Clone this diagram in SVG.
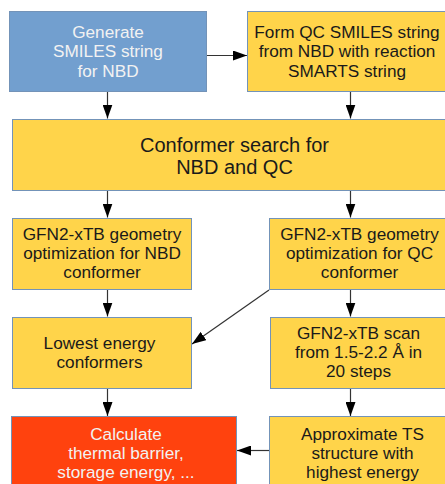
<svg xmlns="http://www.w3.org/2000/svg" width="445" height="484" viewBox="0 0 445 484">
<defs>
<style>
.box{stroke:#7393b8;stroke-width:1}
.y{fill:#ffd44a}
.b{fill:#729fcf}
.r{fill:#ff420e}
text{font-family:"Liberation Sans",Arial,sans-serif;font-size:17.2px;text-anchor:middle;fill:#1a1a1a}
.w{fill:#f2f2f2}
.big{font-size:20px}
.c{stroke:#333;stroke-width:1.2;fill:none;marker-end:url(#ah)}
</style>
<marker id="ah" viewBox="0 0 14 10" refX="14" refY="5" markerWidth="14" markerHeight="10" markerUnits="userSpaceOnUse" orient="auto">
<path d="M0,0 L14,5 L0,10 z" fill="#000"/>
</marker>
</defs>
<rect width="445" height="484" fill="#fff"/>
<g id="connectors">
<line class="c" x1="207" y1="55.5" x2="247" y2="55.5"/>
<line class="c" x1="107.5" y1="92" x2="107.5" y2="118.5"/>
<line class="c" x1="350.5" y1="92" x2="350.5" y2="118.5"/>
<line class="c" x1="107.5" y1="191" x2="107.5" y2="217.5"/>
<line class="c" x1="350.5" y1="191" x2="350.5" y2="217.5"/>
<line class="c" x1="107.5" y1="290" x2="107.5" y2="316.5"/>
<line class="c" x1="350.5" y1="290" x2="350.5" y2="316.5"/>
<line class="c" x1="269" y1="290" x2="192" y2="344"/>
<line class="c" x1="107.5" y1="389" x2="107.5" y2="416"/>
<line class="c" x1="350.5" y1="389" x2="350.5" y2="416"/>
<line class="c" x1="269" y1="450.5" x2="237" y2="450.5"/>
</g>
<g id="generate">
<rect class="box b" x="9.5" y="11.5" width="197" height="80"/>
<text class="w" x="108" y="37.5">Generate</text>
<text class="w" x="108" y="57">SMILES string</text>
<text class="w" x="108" y="76.5">for NBD</text>
</g>
<g id="formqc">
<rect class="box y" x="247.5" y="11.5" width="200" height="80"/>
<text x="347" y="37.5">Form QC SMILES string</text>
<text x="347" y="57">from NBD with reaction</text>
<text x="347" y="76.5">SMARTS string</text>
</g>
<g id="conformer">
<rect class="box y" x="12.5" y="119.5" width="445" height="71"/>
<text class="big" x="234.5" y="152">Conformer search for</text>
<text class="big" x="234.5" y="173.5">NBD and QC</text>
</g>
<g id="gfnnbd">
<rect class="box y" x="12.5" y="218.5" width="179" height="71"/>
<text x="102" y="239.5">GFN2-xTB geometry</text>
<text x="102" y="258.5">optimization for NBD</text>
<text x="102" y="277.5">conformer</text>
</g>
<g id="gfnqc">
<rect class="box y" x="269.5" y="218.5" width="181" height="71"/>
<text x="359.5" y="239.5">GFN2-xTB geometry</text>
<text x="359.5" y="258.5">optimization for QC</text>
<text x="359.5" y="277.5">conformer</text>
</g>
<g id="lowest">
<rect class="box y" x="12.5" y="317.5" width="179" height="71"/>
<text x="99.5" y="348.5">Lowest energy</text>
<text x="99.5" y="368">conformers</text>
</g>
<g id="scan">
<rect class="box y" x="270.5" y="317.5" width="180" height="71"/>
<text x="358.5" y="338.5">GFN2-xTB scan</text>
<text x="358.5" y="357.5">from 1.5-2.2 Å in</text>
<text x="358.5" y="376.5">20 steps</text>
</g>
<g id="calculate">
<rect class="box r" x="11.5" y="416.5" width="225" height="80"/>
<text class="w" x="126" y="440">Calculate</text>
<text class="w" x="126" y="459">thermal barrier,</text>
<text class="w" x="126" y="478">storage energy, ...</text>
</g>
<g id="ts">
<rect class="box y" x="269.5" y="416.5" width="185" height="80"/>
<text x="362.5" y="440">Approximate TS</text>
<text x="362.5" y="459">structure with</text>
<text x="362.5" y="478">highest energy</text>
</g>
</svg>
